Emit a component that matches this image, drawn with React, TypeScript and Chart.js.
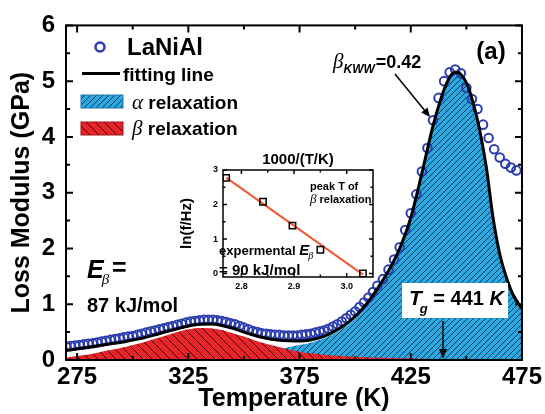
import React, { useEffect, useRef } from "react";
import { Chart, registerables } from "chart.js";

Chart.register(...registerables);

// ---------------- data ----------------
const xTickValues = [275, 325, 375, 425, 475];
const xMinorValues = [300, 350, 400, 450];
const yTickValues = [0, 1, 2, 3, 4, 5, 6];
const yMinorValues = [0.5, 1.5, 2.5, 3.5, 4.5, 5.5];

// measured LaNiAl loss modulus (open circles)
const dataT = [
  270, 272, 274, 276, 278, 280, 282, 284, 286, 288,
  290, 292, 294, 296, 298, 300, 302, 304, 306, 308,
  310, 312, 314, 316, 318, 320, 322, 324, 326, 328,
  330, 332, 334, 336, 338, 340, 342, 344, 346, 348,
  350, 352, 354, 356, 358, 360, 362, 364, 366, 368,
  370, 372, 374, 376, 378, 380, 382, 384, 386, 388,
  390, 392, 394, 396, 398, 400, 402, 404, 406, 408,
  410, 412.5, 415, 417.5, 420, 422.5, 425, 427.5, 430, 432.5,
  435, 437.5, 440, 442.5, 445, 447.5, 450, 452.5, 455, 457.5,
  460, 462.5, 465, 467.5, 470, 472.5,
];
const dataLoss = [
  0.24, 0.25, 0.26, 0.27, 0.28, 0.29, 0.3, 0.315, 0.33, 0.345,
  0.36, 0.375, 0.39, 0.405, 0.42, 0.43, 0.45, 0.47, 0.49, 0.51,
  0.53, 0.55, 0.57, 0.59, 0.61, 0.63, 0.65, 0.67, 0.69, 0.7,
  0.71, 0.72, 0.72, 0.72, 0.71, 0.7, 0.68, 0.66, 0.64, 0.61,
  0.58, 0.55, 0.52, 0.5, 0.48, 0.47, 0.46, 0.45, 0.45, 0.44,
  0.44, 0.44, 0.44, 0.45, 0.46, 0.47, 0.49, 0.51, 0.53, 0.56,
  0.6, 0.64, 0.69, 0.75, 0.81, 0.87, 0.95, 1.03, 1.12, 1.22,
  1.33, 1.45, 1.62, 1.8, 2.02, 2.33, 2.63, 2.97, 3.38, 3.8,
  4.3, 4.7, 5.0, 5.16, 5.21, 5.14, 4.88, 4.68, 4.5, 4.22,
  3.98, 3.78, 3.63, 3.52, 3.45, 3.4,
];

// fitting line
const fitT = [
  270, 275, 280, 285, 290, 295, 300, 305, 310, 315, 320, 325, 330, 335, 340, 345,
  350, 355, 360, 365, 370, 375, 380, 385, 390, 395, 400, 405, 410, 415, 420, 425,
  430, 435, 440, 443, 445, 447, 450, 453, 456, 459, 462, 465, 468, 471, 475,
];
const fitLoss = [
  0.17, 0.2, 0.23, 0.26, 0.29, 0.32, 0.36, 0.4, 0.45, 0.51, 0.56, 0.61, 0.64, 0.645, 0.62, 0.57,
  0.5, 0.44, 0.39, 0.36, 0.345, 0.34, 0.36, 0.41, 0.5, 0.62, 0.78, 1.0, 1.28, 1.6, 2.0, 2.55,
  3.35, 4.2, 4.85, 5.1, 5.16, 5.14, 4.97, 4.62, 4.12, 3.45, 2.55, 1.9, 1.48, 1.17, 0.92,
];

// alpha relaxation (blue area)
const alphaT = [
  270, 300, 320, 330, 340, 350, 355, 360, 365, 370, 375, 380, 385, 390, 395, 400,
  405, 410, 415, 420, 425, 430, 435, 440, 443, 445, 447, 450, 453, 456, 459, 462,
  465, 468, 471, 475,
];
const alphaLoss = [
  0, 0, 0.005, 0.01, 0.03, 0.07, 0.1, 0.14, 0.18, 0.23, 0.27, 0.31, 0.37, 0.46, 0.58, 0.74,
  0.97, 1.26, 1.58, 1.98, 2.55, 3.35, 4.2, 4.85, 5.1, 5.16, 5.14, 4.97, 4.62, 4.12, 3.45, 2.55,
  1.9, 1.48, 1.17, 0.92,
];

// beta relaxation (red area)
const betaT = [
  270, 275, 280, 285, 290, 295, 300, 305, 310, 315, 320, 325, 330, 335, 340, 345,
  350, 355, 360, 365, 370, 375, 380, 385, 390, 400, 410, 420, 435, 455, 475,
];
const betaLoss = [
  0.04, 0.07, 0.1, 0.14, 0.18, 0.22, 0.27, 0.32, 0.38, 0.44, 0.5, 0.55, 0.575, 0.57, 0.54, 0.48,
  0.42, 0.35, 0.29, 0.24, 0.19, 0.15, 0.12, 0.1, 0.08, 0.06, 0.04, 0.03, 0.02, 0.015, 0.01,
];

// inset: Arrhenius plot of the beta peak
const insetX = [2.771, 2.841, 2.897, 2.95, 3.031];
const insetY = [2.77, 2.08, 1.39, 0.69, 0.0];
const insetFitX = [2.771, 3.031];
const insetFitY = [2.78, -0.03];
const insetXTicks = [2.8, 2.9, 3.0];
const insetXMinor = [2.85, 2.95];
const insetYTicks = [0, 1, 2, 3];
const insetYMinor = [0.5, 1.5, 2.5];

const TG_ARROW_T = 439.5;

// ---------------- styles ----------------
const FONT = "'Liberation Sans', Arial, Helvetica, sans-serif";
const SERIF = "'Liberation Serif', 'Times New Roman', serif";
const BLUE = "#2a3cae";
const SKY = "#2ba8e0";
const RED = "#e8242b";
const ORANGE = "#f05a32";

function makeHatch(bg: string, line: string, size: number, dir: number, lw: number) {
  const c = document.createElement("canvas");
  c.width = size;
  c.height = size;
  const g = c.getContext("2d")!;
  g.fillStyle = bg;
  g.fillRect(0, 0, size, size);
  g.strokeStyle = line;
  g.lineWidth = lw;
  g.beginPath();
  if (dir === 1) {
    g.moveTo(0, size); g.lineTo(size, 0);
    g.moveTo(-size / 2, size / 2); g.lineTo(size / 2, -size / 2);
    g.moveTo(size / 2, size * 1.5); g.lineTo(size * 1.5, size / 2);
  } else {
    g.moveTo(0, 0); g.lineTo(size, size);
    g.moveTo(-size / 2, size / 2); g.lineTo(size / 2, size * 1.5);
    g.moveTo(size / 2, -size / 2); g.lineTo(size * 1.5, size / 2);
  }
  g.stroke();
  return g.createPattern(c, "repeat")!;
}

function pts(xs: number[], ys: number[]) {
  return xs.map((x, i) => ({ x, y: ys[i] }));
}

function drawFrameTicks(chart: any, xMaj: number[], xMin: number[], yMaj: number[], yMin: number[], lw: number, majLen: number, minLen: number) {
  const { ctx, chartArea: a, scales } = chart;
  const xs = scales.x, ys = scales.y;
  ctx.save();
  ctx.strokeStyle = "#000";
  ctx.lineWidth = lw;
  ctx.strokeRect(a.left, a.top, a.right - a.left, a.bottom - a.top);
  ctx.beginPath();
  const xt = (v: number, len: number) => {
    const p = xs.getPixelForValue(v);
    ctx.moveTo(p, a.bottom); ctx.lineTo(p, a.bottom - len);
    ctx.moveTo(p, a.top); ctx.lineTo(p, a.top + len);
  };
  const yt = (v: number, len: number) => {
    const p = ys.getPixelForValue(v);
    ctx.moveTo(a.left, p); ctx.lineTo(a.left + len, p);
    ctx.moveTo(a.right, p); ctx.lineTo(a.right - len, p);
  };
  xMaj.forEach((v) => xt(v, majLen));
  xMin.forEach((v) => xt(v, minLen));
  yMaj.forEach((v) => yt(v, majLen));
  yMin.forEach((v) => yt(v, minLen));
  ctx.stroke();
  ctx.restore();
}

type Seg = { t: string; f: string; dy?: number; dx?: number };
function segs(ctx: CanvasRenderingContext2D, x: number, y: number, list: Seg[]) {
  let cx = x;
  for (const s of list) {
    ctx.font = s.f;
    cx += s.dx || 0;
    ctx.fillText(s.t, cx, y + (s.dy || 0));
    cx += ctx.measureText(s.t).width;
  }
}

function arrow(ctx: CanvasRenderingContext2D, x1: number, y1: number, x2: number, y2: number, head: number, w: number) {
  const ang = Math.atan2(y2 - y1, x2 - x1);
  const bx = x2 - head * Math.cos(ang);
  const by = y2 - head * Math.sin(ang);
  ctx.beginPath();
  ctx.moveTo(x1, y1);
  ctx.lineTo(bx, by);
  ctx.stroke();
  ctx.beginPath();
  ctx.moveTo(x2, y2);
  ctx.lineTo(bx + w * Math.sin(ang), by - w * Math.cos(ang));
  ctx.lineTo(bx - w * Math.sin(ang), by + w * Math.cos(ang));
  ctx.closePath();
  ctx.fill();
}

export default function App() {
  const mainRef = useRef<HTMLCanvasElement>(null);
  const insetRef = useRef<HTMLCanvasElement>(null);

  useEffect(() => {
    const bluePat = makeHatch(SKY, "#0f2c4c", 6, 1, 0.9);
    const redPat = makeHatch(RED, "#2a0606", 9, -1, 0.9);

    const mainPlugin = {
      id: "mainDecor",
      afterDatasetsDraw(chart: any) {
        drawFrameTicks(chart, xTickValues, xMinorValues, yTickValues, yMinorValues, 2, 7, 4);
      },
      afterDraw(chart: any) {
        const ctx: CanvasRenderingContext2D = chart.ctx;
        const a = chart.chartArea;
        const xs = chart.scales.x;
        ctx.save();
        ctx.fillStyle = "#000";
        ctx.textBaseline = "alphabetic";
        ctx.textAlign = "left";

        // legend
        ctx.strokeStyle = BLUE;
        ctx.lineWidth = 2.5;
        ctx.beginPath();
        ctx.arc(100, 47, 4.5, 0, Math.PI * 2);
        ctx.stroke();
        ctx.font = `bold 24px ${FONT}`;
        ctx.fillText("LaNiAl", 127, 55);

        ctx.strokeStyle = "#000";
        ctx.lineWidth = 3;
        ctx.beginPath();
        ctx.moveTo(82, 73.5);
        ctx.lineTo(120, 73.5);
        ctx.stroke();
        ctx.font = `bold 19px ${FONT}`;
        ctx.fillText("fitting line", 123, 80.5);

        ctx.fillStyle = bluePat;
        ctx.fillRect(81, 95, 42, 13);
        ctx.strokeStyle = "#1d77aa";
        ctx.lineWidth = 1;
        ctx.strokeRect(81, 95, 42, 13);
        ctx.fillStyle = redPat;
        ctx.fillRect(81, 122, 42, 13);
        ctx.strokeStyle = "#a01216";
        ctx.strokeRect(81, 122, 42, 13);

        ctx.fillStyle = "#000";
        segs(ctx, 132, 109, [
          { t: "α", f: `italic 21px ${SERIF}` },
          { t: " relaxation", f: `bold 19px ${FONT}` },
        ]);
        segs(ctx, 132, 135, [
          { t: "β", f: `italic 21px ${SERIF}` },
          { t: " relaxation", f: `bold 19px ${FONT}` },
        ]);

        // beta_KWW annotation
        segs(ctx, 333, 68, [
          { t: "β", f: `italic 21px ${SERIF}` },
          { t: "KWW", f: `italic bold 12px ${FONT}`, dy: 5 },
          { t: "=0.42", f: `bold 18px ${FONT}`, dx: 1 },
        ]);
        ctx.strokeStyle = "#000";
        ctx.lineWidth = 1.5;
        arrow(ctx, 395, 74, 430, 117, 9, 4);

        // (a)
        ctx.font = `bold 24px ${FONT}`;
        ctx.textAlign = "center";
        ctx.textBaseline = "middle";
        ctx.fillText("(a)", 491, 52);
        ctx.textAlign = "left";
        ctx.textBaseline = "alphabetic";

        // E_beta
        segs(ctx, 87, 278, [
          { t: "E", f: `italic bold 25px ${FONT}` },
          { t: "β", f: `italic 15px ${SERIF}`, dy: 6, dx: -2 },
          { t: " =", f: `bold 25px ${FONT}`, dy: -2, dx: -4 },
        ]);
        ctx.font = `bold 20px ${FONT}`;
        ctx.fillText("87 kJ/mol", 87, 312);

        // Tg box
        ctx.fillStyle = "#fff";
        ctx.fillRect(402, 283, 106, 35);
        ctx.fillStyle = "#000";
        segs(ctx, 409, 305, [
          { t: "T", f: `italic bold 21px ${FONT}` },
          { t: "g", f: `italic bold 13px ${FONT}`, dy: 8, dx: -2 },
          { t: " = 441 ", f: `bold 20px ${FONT}` },
          { t: "K", f: `italic bold 20px ${FONT}` },
        ]);
        const px = xs.getPixelForValue(TG_ARROW_T);
        ctx.strokeStyle = "#000";
        ctx.lineWidth = 1.5;
        arrow(ctx, px, 321, px, a.bottom - 1, 10, 4);
        ctx.restore();
      },
    };

    const main = new Chart(mainRef.current!, {
      type: "line",
      data: {
        datasets: [
          {
            label: "fitting line",
            data: pts(fitT, fitLoss),
            borderColor: "#000",
            borderWidth: 3,
            pointRadius: 0,
            fill: false,
            cubicInterpolationMode: "monotone",
            order: 0,
          },
          {
            label: "LaNiAl",
            data: pts(dataT, dataLoss),
            showLine: false,
            pointStyle: "circle",
            pointRadius: 4.3,
            pointBorderWidth: 2,
            pointBorderColor: BLUE,
            pointBackgroundColor: "rgba(0,0,0,0)",
            order: 1,
          },
          {
            label: "β relaxation",
            data: pts(betaT, betaLoss),
            fill: "origin",
            backgroundColor: redPat,
            borderColor: "rgba(0,0,0,0)",
            borderWidth: 0,
            pointRadius: 0,
            cubicInterpolationMode: "monotone",
            order: 2,
          },
          {
            label: "α relaxation",
            data: pts(alphaT, alphaLoss),
            fill: "origin",
            backgroundColor: bluePat,
            borderColor: "rgba(0,0,0,0)",
            borderWidth: 0,
            pointRadius: 0,
            cubicInterpolationMode: "monotone",
            order: 3,
          },
        ],
      } as any,
      options: {
        animation: false,
        responsive: false,
        maintainAspectRatio: false,
        devicePixelRatio: 1,
        events: [],
        layout: { padding: { top: 22, right: 22, left: 0, bottom: 0 } },
        plugins: { legend: { display: false }, tooltip: { enabled: false } },
        scales: {
          x: {
            type: "linear",
            min: 270,
            max: 475,
            afterBuildTicks: (s: any) => {
              s.ticks = xTickValues.map((v) => ({ value: v }));
            },
            afterFit: (s: any) => {
              s.height = 54;
            },
            grid: { display: false, drawTicks: false, tickLength: 0 },
            border: { display: false },
            ticks: {
              autoSkip: false,
              maxRotation: 0,
              padding: 3,
              color: "#000",
              font: { family: FONT, size: 24, weight: "bold" },
            },
            title: {
              display: true,
              text: "Temperature (K)",
              color: "#000",
              font: { family: FONT, size: 25, weight: "bold" },
              padding: { top: 0, bottom: 0 },
            },
          },
          y: {
            type: "linear",
            min: 0,
            max: 6,
            afterBuildTicks: (s: any) => {
              s.ticks = yTickValues.map((v) => ({ value: v }));
            },
            afterFit: (s: any) => {
              s.width = 66;
            },
            grid: { display: false, drawTicks: false, tickLength: 0 },
            border: { display: false },
            ticks: {
              padding: 11,
              color: "#000",
              font: { family: FONT, size: 24, weight: "bold" },
            },
            title: {
              display: true,
              text: "Loss Modulus (GPa)",
              color: "#000",
              font: { family: FONT, size: 25, weight: "bold" },
              padding: { top: 7, bottom: 0 },
            },
          },
        },
      } as any,
      plugins: [mainPlugin],
    });

    const insetPlugin = {
      id: "insetDecor",
      afterDatasetsDraw(chart: any) {
        drawFrameTicks(chart, insetXTicks, insetXMinor, insetYTicks, insetYMinor, 1.5, 4, 2.5);
      },
      afterDraw(chart: any) {
        const ctx: CanvasRenderingContext2D = chart.ctx;
        const a = chart.chartArea;
        ctx.save();
        ctx.fillStyle = "#000";
        ctx.textAlign = "center";
        ctx.textBaseline = "middle";
        ctx.font = `bold 15px ${FONT}`;
        ctx.fillText("1000/(T/K)", (a.left + a.right) / 2, a.top - 10);
        ctx.textAlign = "left";
        ctx.textBaseline = "alphabetic";
        ctx.font = `bold 11px ${FONT}`;
        ctx.fillText("peak T of", 310, 190);
        segs(ctx, 310, 203, [
          { t: "β", f: `italic 13px ${SERIF}` },
          { t: " relaxation", f: `bold 11px ${FONT}` },
        ]);
        segs(ctx, 219, 255, [
          { t: "expermental ", f: `bold 13px ${FONT}` },
          { t: "E", f: `italic bold 15px ${FONT}` },
          { t: "β", f: `italic 10px ${SERIF}`, dy: 4, dx: -1 },
        ]);
        ctx.font = `bold 15px ${FONT}`;
        ctx.fillText("= 90 kJ/mol", 219, 275);
        ctx.restore();
      },
    };

    const inset = new Chart(insetRef.current!, {
      type: "line",
      data: {
        datasets: [
          {
            label: "peak",
            data: pts(insetX, insetY),
            showLine: false,
            pointStyle: "rect",
            pointRadius: 4.5,
            pointBorderWidth: 1.5,
            pointBorderColor: "#000",
            pointBackgroundColor: "rgba(0,0,0,0)",
            order: 0,
          },
          {
            label: "fit",
            data: pts(insetFitX, insetFitY),
            borderColor: ORANGE,
            borderWidth: 2,
            pointRadius: 0,
            fill: false,
            order: 1,
          },
        ],
      } as any,
      options: {
        animation: false,
        responsive: false,
        maintainAspectRatio: false,
        devicePixelRatio: 1,
        events: [],
        layout: { padding: { top: 170, right: 172, left: 170, bottom: 117 } },
        plugins: { legend: { display: false }, tooltip: { enabled: false } },
        scales: {
          x: {
            type: "linear",
            min: 2.765,
            max: 3.05,
            afterBuildTicks: (s: any) => {
              s.ticks = insetXTicks.map((v) => ({ value: v }));
            },
            afterFit: (s: any) => {
              s.height = 20;
            },
            grid: { display: false, drawTicks: false, tickLength: 0 },
            border: { display: false },
            ticks: {
              autoSkip: false,
              maxRotation: 0,
              padding: 4,
              color: "#000",
              font: { family: FONT, size: 9, weight: "bold" },
              callback: (v: any) => Number(v).toFixed(1),
            },
          },
          y: {
            type: "linear",
            min: -0.1,
            max: 3,
            afterBuildTicks: (s: any) => {
              s.ticks = insetYTicks.map((v) => ({ value: v }));
            },
            afterFit: (s: any) => {
              s.width = 53;
            },
            grid: { display: false, drawTicks: false, tickLength: 0 },
            border: { display: false },
            ticks: {
              padding: 5,
              color: "#000",
              font: { family: FONT, size: 9, weight: "bold" },
            },
            title: {
              display: true,
              text: "ln(f/Hz)",
              color: "#000",
              font: { family: FONT, size: 15, weight: "bold" },
              padding: { top: 8, bottom: 0 },
            },
          },
        },
      } as any,
      plugins: [insetPlugin],
    });

    return () => {
      main.destroy();
      inset.destroy();
    };
  }, []);

  return (
    <div style={{ position: "absolute", left: 0, top: 0, width: 545, height: 414, background: "#fff" }}>
      <canvas ref={mainRef} width={545} height={414} style={{ position: "absolute", left: 0, top: 0 }} />
      <canvas ref={insetRef} width={545} height={414} style={{ position: "absolute", left: 0, top: 0 }} />
    </div>
  );
}
